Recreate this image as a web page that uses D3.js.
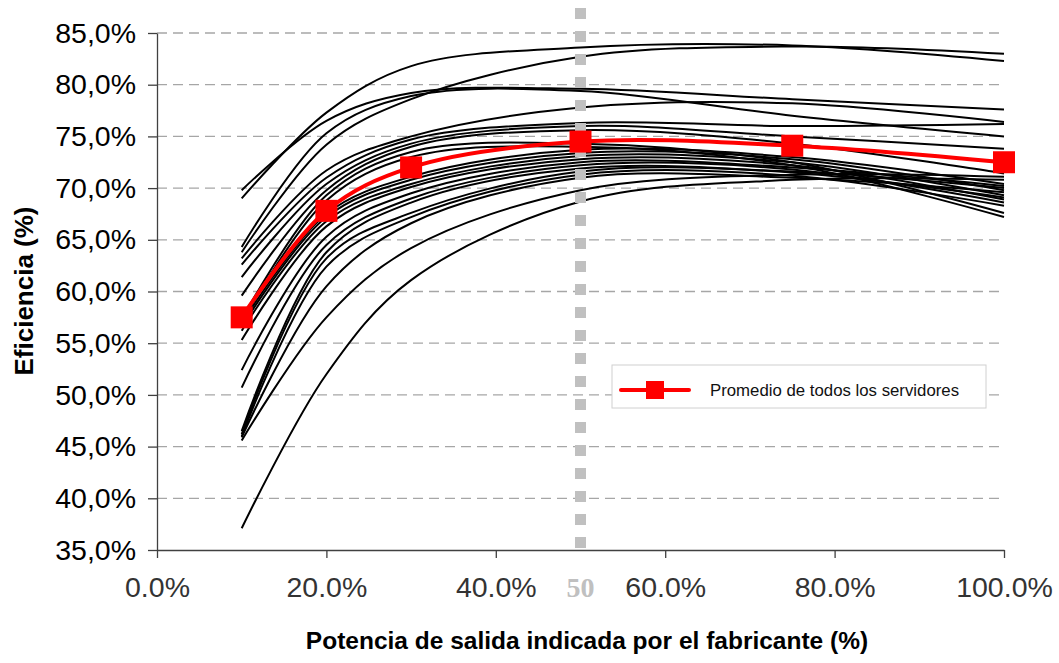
<!DOCTYPE html>
<meta charset="utf-8">
<style>
body { margin: 0; background: #fff; }
svg { font-family: Arial, "Liberation Sans", sans-serif; }
.grid line { stroke: #a6a6a6; stroke-width: 1.3px; stroke-dasharray: 10,6; }
.axis path, .axis line { stroke: #404040; stroke-width: 1.3px; }
.axis text { font-size: 28.5px; }
.servidor { fill: none; stroke: #000; stroke-width: 2px; }
</style>
<svg width="1059" height="663"></svg>
<script src="https://d3js.org/d3.v7.min.js"></script>
<script>

// carga (% de la potencia indicada) en la que se mide cada fuente
var cargas = [10, 20, 30, 50, 75, 100];

// eficiencia (%) de cada servidor en esas cargas
var servidores = [
  [69.0, 77.3, 81.8, 83.6, 83.8, 82.3],
  [63.8, 74.2, 78.6, 82.7, 83.7, 83.0],
  [69.8, 76.5, 79.2, 79.6, 78.6, 77.6],
  [64.3, 75.3, 78.9, 79.4, 77.0, 75.0],
  [63.2, 71.7, 75.0, 77.8, 78.2, 76.4],
  [62.6, 71.0, 74.7, 76.3, 76.0, 76.2],
  [61.4, 70.4, 74.3, 76.0, 75.0, 73.8],
  [59.6, 69.8, 74.0, 75.6, 74.3, 71.4],
  [57.3, 69.3, 73.5, 74.3, 72.5, 67.6],
  [57.0, 68.8, 73.0, 74.0, 72.2, 67.2],
  [56.9, 67.5, 71.1, 73.7, 73.0, 70.4],
  [56.6, 67.2, 70.8, 73.4, 72.8, 69.8],
  [56.2, 66.8, 70.4, 73.1, 72.5, 69.3],
  [55.3, 66.3, 70.1, 72.8, 72.2, 68.9],
  [52.4, 65.3, 69.5, 72.5, 72.0, 70.2],
  [50.7, 64.5, 69.0, 72.2, 71.8, 68.6],
  [46.5, 63.8, 68.6, 71.9, 71.5, 69.1],
  [46.2, 63.2, 67.6, 71.6, 71.6, 70.0],
  [46.0, 62.4, 67.2, 71.3, 71.2, 68.3],
  [45.9, 60.5, 66.6, 71.0, 71.0, 69.6],
  [45.6, 57.5, 64.2, 69.8, 71.3, 71.1],
  [37.1, 52.0, 61.1, 68.7, 70.8, 70.8]
];

// promedio de todos los servidores
var promedio = [57.5, 67.8, 72.0, 74.5, 74.1, 72.5];

var ticksY = [35, 40, 45, 50, 55, 60, 65, 70, 75, 80, 85];
var ticksX = [0, 20, 40, 60, 80, 100];
var marcaCarga = 50;

var svg = d3.select("svg");

var x = d3.scaleLinear().domain([0, 100]).range([157, 1004]);
var y = d3.scaleLinear().domain([35, 85]).range([550, 33]);

// lineas de division
svg.append("g")
    .attr("class", "grid")
  .selectAll("line")
  .data(ticksY.slice(1))
  .enter().append("line")
    .attr("x1", x(0))
    .attr("x2", x(100))
    .attr("y1", function(d) { return y(d); })
    .attr("y2", function(d) { return y(d); });

var line = d3.line()
    .x(function(d) { return x(d[0]); })
    .y(function(d) { return y(d[1]); })
    .curve(d3.curveCatmullRom.alpha(0.5));

svg.append("g")
  .selectAll("path")
  .data(servidores)
  .enter().append("path")
    .attr("class", "servidor")
    .attr("d", function(s) { return line(d3.zip(cargas, s)); });

// ejes
var fmtY = function(d) { return d3.format(".1f")(d).replace(".", ",") + "%"; };

svg.append("g")
    .attr("class", "axis")
    .attr("transform", "translate(" + x(0) + ",0)")
    .call(d3.axisLeft(y).tickValues(ticksY).tickFormat(fmtY).tickSize(9).tickSizeOuter(0).tickPadding(12))
    .call(function(g) { g.selectAll("text").attr("fill", "#000"); });

svg.append("g")
    .attr("class", "axis")
    .attr("transform", "translate(0," + y(35) + ")")
    .call(d3.axisBottom(x).tickValues(ticksX).tickFormat(function(d) { return d.toFixed(1) + "%"; })
      .tickSize(8).tickSizeOuter(0).tickPadding(19))
    .call(function(g) { g.selectAll("text").attr("fill", "#333"); });

// linea vertical del 50 %
svg.append("line")
    .attr("x1", x(marcaCarga)).attr("x2", x(marcaCarga))
    .attr("y1", 8).attr("y2", 557)
    .attr("stroke", "#c0c0c0")
    .attr("stroke-width", 11)
    .attr("stroke-dasharray", "11,12");

svg.append("text")
    .attr("x", x(marcaCarga))
    .attr("y", 597)
    .attr("text-anchor", "middle")
    .attr("font-family", "'Liberation Serif', 'Times New Roman', serif")
    .attr("font-weight", "bold")
    .attr("font-size", 28)
    .attr("fill", "#c0c0c0")
    .text(marcaCarga);

// promedio
var ptsProm = d3.zip(cargas, promedio);

svg.append("path")
    .attr("d", line(ptsProm))
    .attr("fill", "none")
    .attr("stroke", "#ff0000")
    .attr("stroke-width", 4);

svg.append("g")
  .selectAll("rect")
  .data(ptsProm)
  .enter().append("rect")
    .attr("x", function(d) { return x(d[0]) - 11; })
    .attr("y", function(d) { return y(d[1]) - 11; })
    .attr("width", 22)
    .attr("height", 22)
    .attr("fill", "#ff0000");

// leyenda
var ley = svg.append("g").attr("transform", "translate(612,365)");
ley.append("rect")
    .attr("width", 374).attr("height", 43)
    .attr("fill", "#fff").attr("stroke", "#d0d0d0");
ley.append("line")
    .attr("x1", 9).attr("x2", 77).attr("y1", 25).attr("y2", 25)
    .attr("stroke", "#ff0000").attr("stroke-width", 4).attr("stroke-linecap", "round");
ley.append("rect")
    .attr("x", 34).attr("y", 16).attr("width", 18).attr("height", 18)
    .attr("fill", "#ff0000");
ley.append("text")
    .attr("x", 98).attr("y", 31)
    .attr("font-size", 16.8)
    .attr("fill", "#111")
    .text("Promedio de todos los servidores");

// titulos
svg.append("text")
    .attr("transform", "translate(33,291) rotate(-90)")
    .attr("text-anchor", "middle")
    .attr("font-weight", "bold")
    .attr("font-size", 26)
    .text("Eficiencia (%)");

svg.append("text")
    .attr("x", 587)
    .attr("y", 649)
    .attr("text-anchor", "middle")
    .attr("font-weight", "bold")
    .attr("font-size", 24.5)
    .text("Potencia de salida indicada por el fabricante (%)");

</script>
